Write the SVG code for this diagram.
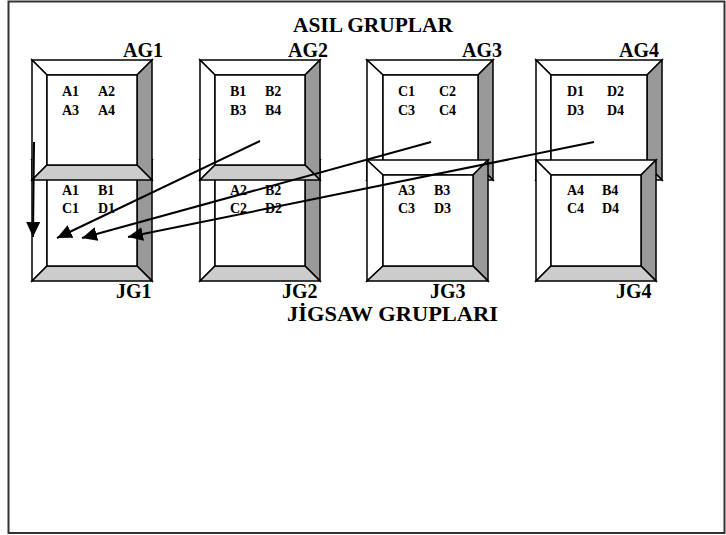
<svg xmlns="http://www.w3.org/2000/svg" width="726" height="535" viewBox="0 0 726 535">
<style>
.t{font-family:"Liberation Serif","Times New Roman",serif;font-weight:bold;fill:#000}
.big{font-size:20px}
.sm{font-size:14px}
.bv{stroke:#000;stroke-width:1.5;stroke-linejoin:miter}
.w{fill:#fff}
.dk{fill:#999}
.lt{fill:#ccc}
.arr{stroke:#000;stroke-width:2;fill:none;marker-end:url(#ah)}
</style>
<defs>
<marker id="ah" markerUnits="userSpaceOnUse" markerWidth="16" markerHeight="14" refX="15" refY="7" orient="auto">
<path d="M0,0 L15,7 L0,14 Z" fill="#000"/>
</marker>
</defs>
<rect x="0" y="0" width="726" height="535" fill="#fff"/>
<rect x="8.5" y="1.5" width="716" height="531.5" fill="none" stroke="#333" stroke-width="2"/>

<text class="t big" x="293" y="32" textLength="160" lengthAdjust="spacingAndGlyphs">ASIL GRUPLAR</text>

<g id="JG1">
<polygon class="bv w" points="32,160 152,160 137,175 47,175"/>
<polygon class="bv w" points="32,160 47,175 47,266 32,281"/>
<polygon class="bv dk" points="152,160 152,281 137,266 137,175"/>
<polygon class="bv lt" points="32,281 152,281 137,266 47,266"/>
<rect class="bv w" x="47" y="175" width="90" height="91"/>
<text class="t sm" x="62" y="195">A1</text><text class="t sm" x="98" y="195">B1</text>
<text class="t sm" x="62" y="213">C1</text><text class="t sm" x="98" y="213">D1</text>
<text class="t big" x="116" y="298">JG1</text>
</g>
<g id="AG1">
<polygon class="bv w" points="32,60 152,60 137,75 47,75"/>
<polygon class="bv w" points="32,60 47,75 47,165 32,180"/>
<polygon class="bv dk" points="152,60 152,180 137,165 137,75"/>
<polygon class="bv lt" points="32,180 152,180 137,165 47,165"/>
<rect class="bv w" x="47" y="75" width="90" height="90"/>
<text class="t sm" x="62" y="96">A1</text><text class="t sm" x="98" y="96">A2</text>
<text class="t sm" x="62" y="115">A3</text><text class="t sm" x="98" y="115">A4</text>
<text class="t big" x="123" y="57">AG1</text>
</g>

<g id="JG2">
<polygon class="bv w" points="200,160 320,160 305,175 215,175"/>
<polygon class="bv w" points="200,160 215,175 215,266 200,281"/>
<polygon class="bv dk" points="320,160 320,281 305,266 305,175"/>
<polygon class="bv lt" points="200,281 320,281 305,266 215,266"/>
<rect class="bv w" x="215" y="175" width="90" height="91"/>
<text class="t sm" x="230" y="195">A2</text><text class="t sm" x="265" y="195">B2</text>
<text class="t sm" x="230" y="213">C2</text><text class="t sm" x="265" y="213">D2</text>
<text class="t big" x="282" y="298">JG2</text>
</g>
<g id="AG2">
<polygon class="bv w" points="200,60 320,60 305,75 215,75"/>
<polygon class="bv w" points="200,60 215,75 215,165 200,180"/>
<polygon class="bv dk" points="320,60 320,180 305,165 305,75"/>
<polygon class="bv lt" points="200,180 320,180 305,165 215,165"/>
<rect class="bv w" x="215" y="75" width="90" height="90"/>
<text class="t sm" x="230" y="96">B1</text><text class="t sm" x="265" y="96">B2</text>
<text class="t sm" x="230" y="115">B3</text><text class="t sm" x="265" y="115">B4</text>
<text class="t big" x="288" y="57">AG2</text>
</g>

<g id="AG3">
<polygon class="bv w" points="367,60 493,60 478,75 383,75"/>
<polygon class="bv w" points="367,60 383,75 383,165 367,180"/>
<polygon class="bv dk" points="493,60 493,180 478,165 478,75"/>
<polygon class="bv lt" points="367,180 493,180 478,165 383,165"/>
<rect class="bv w" x="383" y="75" width="95" height="90"/>
<text class="t sm" x="398" y="96">C1</text><text class="t sm" x="439" y="96">C2</text>
<text class="t sm" x="398" y="115">C3</text><text class="t sm" x="439" y="115">C4</text>
<text class="t big" x="462" y="57">AG3</text>
</g>
<g id="JG3">
<polygon class="bv w" points="367,160 488,160 473,175 383,175"/>
<polygon class="bv w" points="367,160 383,175 383,266 367,281"/>
<polygon class="bv dk" points="488,160 488,281 473,266 473,175"/>
<polygon class="bv lt" points="367,281 488,281 473,266 383,266"/>
<rect class="bv w" x="383" y="175" width="90" height="91"/>
<text class="t sm" x="398" y="195">A3</text><text class="t sm" x="434" y="195">B3</text>
<text class="t sm" x="398" y="213">C3</text><text class="t sm" x="434" y="213">D3</text>
<text class="t big" x="430" y="298">JG3</text>
</g>

<g id="AG4">
<polygon class="bv w" points="536,60 662,60 647,75 551,75"/>
<polygon class="bv w" points="536,60 551,75 551,165 536,180"/>
<polygon class="bv dk" points="662,60 662,180 647,165 647,75"/>
<polygon class="bv lt" points="536,180 662,180 647,165 551,165"/>
<rect class="bv w" x="551" y="75" width="96" height="90"/>
<text class="t sm" x="567" y="96">D1</text><text class="t sm" x="607" y="96">D2</text>
<text class="t sm" x="567" y="115">D3</text><text class="t sm" x="607" y="115">D4</text>
<text class="t big" x="619" y="57">AG4</text>
</g>
<g id="JG4">
<polygon class="bv w" points="536,160 656,160 641,175 551,175"/>
<polygon class="bv w" points="536,160 551,175 551,266 536,281"/>
<polygon class="bv dk" points="656,160 656,281 641,266 641,175"/>
<polygon class="bv lt" points="536,281 656,281 641,266 551,266"/>
<rect class="bv w" x="551" y="175" width="90" height="91"/>
<text class="t sm" x="567" y="195">A4</text><text class="t sm" x="602" y="195">B4</text>
<text class="t sm" x="567" y="213">C4</text><text class="t sm" x="602" y="213">D4</text>
<text class="t big" x="616" y="298">JG4</text>
</g>

<text class="t big" x="287" y="321" textLength="211" lengthAdjust="spacingAndGlyphs">JİGSAW GRUPLARI</text>

<g id="connectors">
<line class="arr" x1="34" y1="142" x2="33" y2="237"/>
<line class="arr" x1="260" y1="141" x2="57" y2="238"/>
<line class="arr" x1="431" y1="142" x2="82" y2="238"/>
<line class="arr" x1="594" y1="142" x2="128" y2="237"/>
</g>
</svg>
